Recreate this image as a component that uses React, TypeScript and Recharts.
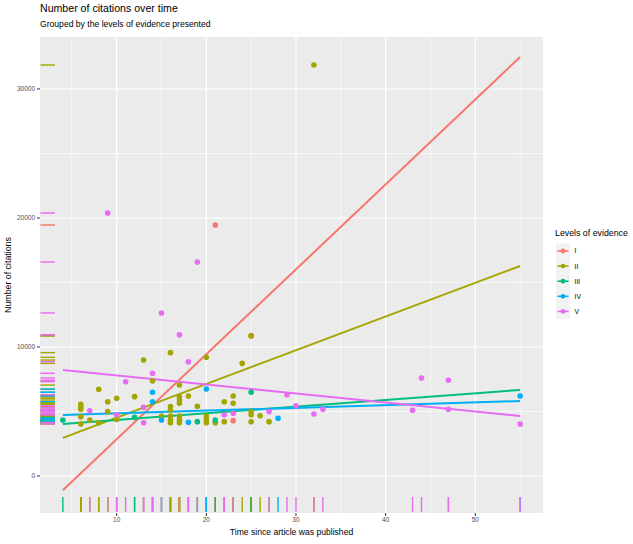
import React from "react";
import { ComposedChart, Scatter, Line, XAxis, YAxis, CartesianGrid } from "recharts";

const X_MIN = 1.45;
const X_MAX = 57.55;
const Y_MIN = -2870;
const Y_MAX = 34030;

const levels = ["I", "II", "III", "IV", "V"];
const levelColors = ["#F8766D", "#A3A500", "#00BF7D", "#00B0F6", "#E76BF3"];

const xTicks = [10, 20, 30, 40, 50];
const yTicks = [0, 10000, 20000, 30000];
const xMinor = [5, 15, 25, 35, 45, 55];
const yMinor = [5000, 15000, 25000];

const pointsI = [
  { t: 25, n: 10880 },
  { t: 21, n: 19460 },
  { t: 23, n: 4290 },
];

const pointsII = [
  { t: 6, n: 5560 }, { t: 6, n: 5370 }, { t: 6, n: 5170 }, { t: 6, n: 4600 }, { t: 6, n: 4030 },
  { t: 7, n: 4340 },
  { t: 8, n: 6720 }, { t: 8, n: 4130 },
  { t: 9, n: 5760 }, { t: 9, n: 4990 },
  { t: 10, n: 6020 }, { t: 10, n: 4380 },
  { t: 12, n: 6150 },
  { t: 13, n: 8990 },
  { t: 14, n: 7360 },
  { t: 15, n: 4650 },
  { t: 16, n: 9560 }, { t: 16, n: 5380 }, { t: 16, n: 5120 }, { t: 16, n: 4650 }, { t: 16, n: 4340 }, { t: 16, n: 4130 },
  { t: 17, n: 7050 }, { t: 17, n: 6150 }, { t: 17, n: 5890 }, { t: 17, n: 5640 }, { t: 17, n: 4650 }, { t: 17, n: 4340 }, { t: 17, n: 4130 },
  { t: 18, n: 6200 },
  { t: 19, n: 5400 },
  { t: 20, n: 9200 }, { t: 20, n: 4650 }, { t: 20, n: 4380 }, { t: 20, n: 4130 },
  { t: 21, n: 4130 },
  { t: 22, n: 5760 }, { t: 22, n: 4210 },
  { t: 23, n: 6200 }, { t: 23, n: 5640 },
  { t: 24, n: 8730 },
  { t: 25, n: 10850 }, { t: 25, n: 5000 }, { t: 25, n: 4750 }, { t: 25, n: 4200 },
  { t: 26, n: 4670 },
  { t: 27, n: 4210 },
  { t: 32, n: 31860 },
];

const pointsIII = [
  { t: 4, n: 4340 },
  { t: 12, n: 4540 },
  { t: 19, n: 4210 },
  { t: 21, n: 4340 },
  { t: 25, n: 6490 },
];

const pointsIV = [
  { t: 14, n: 6490 }, { t: 14, n: 5760 },
  { t: 15, n: 4340 },
  { t: 18, n: 4160 },
  { t: 20, n: 6740 },
  { t: 28, n: 4470 },
  { t: 55, n: 6200 },
];

const pointsV = [
  { t: 7, n: 5060 },
  { t: 9, n: 20390 },
  { t: 10, n: 4750 },
  { t: 11, n: 7310 },
  { t: 13, n: 5320 }, { t: 13, n: 4130 },
  { t: 14, n: 7960 },
  { t: 15, n: 12640 },
  { t: 17, n: 10950 },
  { t: 18, n: 8860 },
  { t: 19, n: 16590 },
  { t: 22, n: 4750 },
  { t: 23, n: 4860 },
  { t: 27, n: 4990 },
  { t: 29, n: 6300 },
  { t: 30, n: 5440 },
  { t: 32, n: 4810 },
  { t: 33, n: 5170 },
  { t: 43, n: 5090 },
  { t: 44, n: 7600 },
  { t: 47, n: 7420 }, { t: 47, n: 5170 },
  { t: 55, n: 4030 },
];

const fitI = [{ t: 4, n: -1100 }, { t: 55, n: 32480 }];
const fitII = [{ t: 4, n: 2950 }, { t: 55, n: 16280 }];
const fitIII = [{ t: 4, n: 4030 }, { t: 55, n: 6670 }];
const fitIV = [{ t: 4, n: 4730 }, { t: 55, n: 5810 }];
const fitV = [{ t: 4, n: 8220 }, { t: 55, n: 4650 }];

const allPoints = [pointsI, pointsII, pointsIII, pointsIV, pointsV];
const allFits = [fitI, fitII, fitIII, fitIV, fitV];

const rugBottom = allPoints.flatMap((pts, g) => pts.map((p) => ({ t: p.t, n: Y_MIN, g })));
const rugLeft = allPoints.flatMap((pts, g) => pts.map((p) => ({ t: X_MIN, n: p.n, g })));

const FONT = "'Liberation Sans', Arial, Helvetica, sans-serif";

const dotShape = (color: string) => (props: any) => {
  if (props.cx == null || props.cy == null) return <g />;
  return <circle cx={props.cx} cy={props.cy} r={2.8} fill={color} />;
};

const bottomRugShape = (props: any) => {
  if (props.cx == null || props.cy == null) return <g />;
  const c = levelColors[props.payload.g];
  return <line x1={props.cx} x2={props.cx} y1={props.cy - 16} y2={props.cy - 1} stroke={c} strokeWidth={1.4} />;
};

const leftRugShape = (props: any) => {
  if (props.cx == null || props.cy == null) return <g />;
  const c = levelColors[props.payload.g];
  return <line x1={props.cx + 0.5} x2={props.cx + 15} y1={props.cy} y2={props.cy} stroke={c} strokeWidth={1.4} />;
};

export default function App() {
  return (
    <div style={{ position: "absolute", left: 0, top: 0, width: 633, height: 544, background: "#fff" }}>
      <ComposedChart
        width={633}
        height={544}
        margin={{ top: 37, right: 90, left: 0, bottom: 0 }}
        style={{ fontFamily: FONT }}
      >
        <CartesianGrid
          verticalValues={xMinor}
          horizontalValues={yMinor}
          stroke="#ffffff"
          strokeWidth={0.6}
          fill="#ebebeb"
          fillOpacity={1}
        />
        <CartesianGrid
          verticalValues={xTicks}
          horizontalValues={yTicks}
          stroke="#ffffff"
          strokeWidth={1.2}
          fill="none"
        />
        <XAxis
          type="number"
          dataKey="t"
          domain={[X_MIN, X_MAX]}
          allowDataOverflow
          ticks={xTicks}
          axisLine={false}
          tickLine={{ stroke: "#333333" }}
          tickSize={3}
          tickMargin={1}
          tick={{ fontSize: 6.5, fill: "#4d4d4d", fontFamily: FONT }}
          height={31}
        />
        <YAxis
          type="number"
          dataKey="n"
          domain={[Y_MIN, Y_MAX]}
          allowDataOverflow
          ticks={yTicks}
          axisLine={false}
          tickLine={{ stroke: "#333333" }}
          tickSize={3}
          tickMargin={2}
          tick={{ fontSize: 6.5, fill: "#4d4d4d", fontFamily: FONT }}
          width={40}
        />
        {allPoints.map((pts, g) => (
          <Scatter
            key={"pts" + g}
            data={pts}
            shape={dotShape(levelColors[g])}
            isAnimationActive={false}
          />
        ))}
        {allFits.map((fit, g) => (
          <Line
            key={"fit" + g}
            data={fit}
            dataKey="n"
            type="linear"
            stroke={levelColors[g]}
            strokeWidth={2}
            dot={false}
            activeDot={false}
            isAnimationActive={false}
          />
        ))}
        <Scatter data={rugBottom} shape={bottomRugShape} isAnimationActive={false} />
        <Scatter data={rugLeft} shape={leftRugShape} isAnimationActive={false} />
      </ComposedChart>
      <svg
        width={633}
        height={544}
        style={{ position: "absolute", left: 0, top: 0, pointerEvents: "none", fontFamily: FONT }}
      >
        <text x={40} y={12} fontSize={10.6} fill="#000">Number of citations over time</text>
        <text x={40} y={27} fontSize={8.6} fill="#000">Grouped by the levels of evidence presented</text>
        <text transform="translate(11,275) rotate(-90)" textAnchor="middle" fontSize={8.8} fill="#000">
          Number of citations
        </text>
        <text x={291.5} y={534.5} textAnchor="middle" fontSize={8.6} fill="#000">
          Time since article was published
        </text>
        <text x={555} y={236} fontSize={8.8} fill="#000">Levels of evidence</text>
        {levels.map((lv, i) => {
          const cy = 251 + i * 15.1;
          return (
            <g key={lv}>
              <rect x={556} y={cy - 7.5} width={14} height={15} fill="#f2f2f2" />
              <line x1={557.5} x2={568.5} y1={cy} y2={cy} stroke={levelColors[i]} strokeWidth={1.6} />
              <circle cx={563} cy={cy} r={2.4} fill={levelColors[i]} />
              <text x={574.5} y={cy + 2.4} fontSize={6.8} fill="#000">{lv}</text>
            </g>
          );
        })}
      </svg>
    </div>
  );
}
